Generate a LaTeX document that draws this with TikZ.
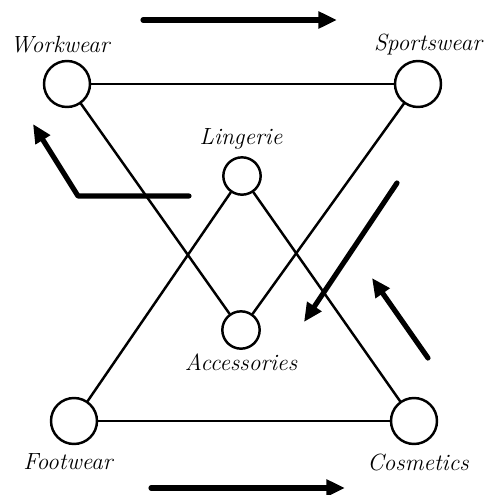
\documentclass[tikz,border=0pt]{standalone}
\usepackage{amsmath,amssymb}
\usetikzlibrary{arrows.meta}

\begin{document}
\begin{tikzpicture}[x=0.03cm,y=-0.03cm,>={Triangle[length=16pt,width=14pt]}, line join=round, line cap=round,
	font=\fontsize{20}{24}\selectfont\itshape,
	big/.style={circle,draw,line width=2.1pt,minimum size=1.38cm,inner sep=0pt},
	small/.style={circle,draw,line width=2.1pt,minimum size=1.12cm,inner sep=0pt},
	link/.style={line width=2.1pt},
	flow/.style={->,line width=4.4pt}]
	\useasboundingbox (0,0) rectangle (484,495);
	% Sortimente
	\node[big] (work) at (67,84) {};
	\node[big] (sport) at (418,84) {};
	\node[big] (foot) at (74,421) {};
	\node[big] (cosm) at (414,421) {};
	\node[small] (ling) at (242,176) {};
	\node[small] (acc) at (241,330) {};
	\node (worklab) at (60,45) {Workwear};
	\node (sportlab) at (428,45) {Sportswear};
	\node (linglab) at (241,139) {Lingerie};
	\node (acclab) at (241,362) {Accessories};
	\node (footlab) at (68,462) {Footwear};
	\node (cosmlab) at (418,462) {Cosmetics};
	% Verbindungen
	\draw[link] (work) -- (sport);
	\draw[link] (foot) -- (cosm);
	\draw[link] (work) -- (acc);
	\draw[link] (sport) -- (acc);
	\draw[link] (foot) -- (ling);
	\draw[link] (cosm) -- (ling);
	% Pfeile
	\coordinate (t1) at (143,20); \coordinate (t2) at (337,20);
	\coordinate (b1) at (151,488); \coordinate (b2) at (345,488);
	\coordinate (l1) at (189,196); \coordinate (l2) at (78,196); \coordinate (l3) at (33,124);
	\coordinate (r1) at (397,183); \coordinate (r2) at (304,322);
	\coordinate (s1) at (428,358); \coordinate (s2) at (372,278);
	\draw[flow] (t1) -- (t2);
	\draw[flow] (b1) -- (b2);
	\draw[flow] (l1) -- (l2) -- (l3);
	\draw[flow] (r1) -- (r2);
	\draw[flow] (s1) -- (s2);
\end{tikzpicture}
\end{document}
